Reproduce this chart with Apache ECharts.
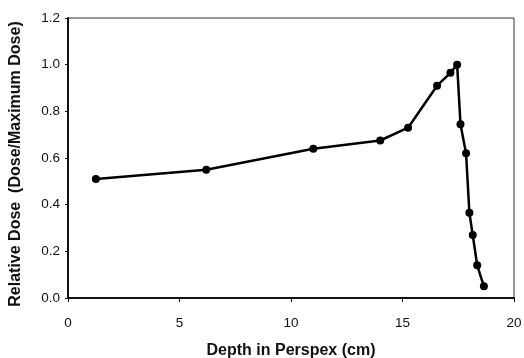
<!DOCTYPE html>
<html>
<head>
<meta charset="utf-8">
<script src="https://cdn.jsdelivr.net/npm/echarts@6/dist/echarts.min.js"></script>
<style>
  html, body { margin: 0; padding: 0; background: #fff; }
  #chart { width: 524px; height: 358px; }
</style>
</head>
<body>
<div id="chart"></div>
<script>
// depth (cm) and relative dose
const depth = [1.25, 6.2, 11.0, 14.0, 15.25, 16.55, 17.15, 17.45, 17.6, 17.85, 18.0, 18.15, 18.35, 18.65];
const dose  = [0.51, 0.55, 0.64, 0.675, 0.73, 0.91, 0.965, 1.0, 0.745, 0.62, 0.365, 0.27, 0.14, 0.05];

const font = 'Liberation Sans, Arial, sans-serif';

const chart = echarts.init(document.getElementById('chart'));
chart.setOption({
  animation: false,
  grid: {
    left: 68, right: 10, top: 18, bottom: 60,
    outerBoundsMode: 'none',
    show: true, borderColor: '#333', borderWidth: 1
  },
  xAxis: {
    type: 'value',
    min: 0, max: 20, interval: 5,
    name: 'Depth in Perspex (cm)',
    nameLocation: 'middle',
    nameGap: 45,
    nameTextStyle: { fontFamily: font, fontWeight: 'bold', fontSize: 16, color: '#111' },
    axisLine: { lineStyle: { color: '#111', width: 2 } },
    axisTick: { inside: false, length: 4, lineStyle: { color: '#111' } },
    axisLabel: { fontFamily: font, fontSize: 13.5, color: '#111', margin: 18 },
    splitLine: { show: false }
  },
  yAxis: {
    type: 'value',
    min: 0, max: 1.2, interval: 0.2,
    name: 'Relative Dose  (Dose/Maximum Dose)',
    nameLocation: 'middle',
    nameGap: 44,
    nameTextStyle: {
      fontFamily: font, fontWeight: 'bold', fontSize: 16, color: '#111',
      padding: [0, 12, 0, 0]
    },
    axisLine: { show: true, lineStyle: { color: '#111', width: 2 } },
    axisTick: { show: true, length: 3, lineStyle: { color: '#111' } },
    axisLabel: {
      fontFamily: font, fontSize: 13.5, color: '#111', margin: 8,
      formatter: v => v.toFixed(1)
    },
    splitLine: { show: false }
  },
  series: [{
    type: 'line',
    data: depth.map((d, i) => [d, dose[i]]),
    symbol: 'circle',
    symbolSize: 8,
    lineStyle: { color: '#000', width: 2.5 },
    itemStyle: { color: '#000' }
  }]
});
</script>
</body>
</html>
